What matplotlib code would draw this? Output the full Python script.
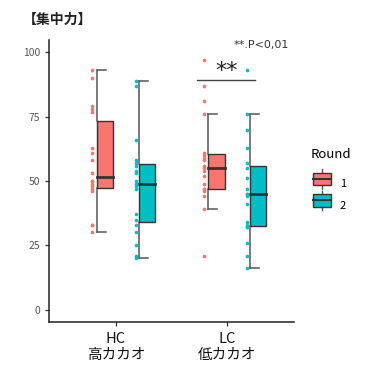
import matplotlib

matplotlib.use("Agg")
import matplotlib.pyplot as plt
import numpy as np
from matplotlib.legend_handler import HandlerBase
from matplotlib.patches import Rectangle
from matplotlib.lines import Line2D

plt.rcParams["font.family"] = ["Noto Sans CJK JP", "DejaVu Sans"]

# ---- data ------------------------------------------------------------------
groups = ["HC\n高カカオ", "LC\n低カカオ"]
rounds = ["1", "2"]
colors = ["#F8766D", "#00BFC4"]

hc_r1 = [93, 90, 79, 78, 77, 63, 61, 58, 53, 50, 50, 49, 48, 47, 46, 33, 33, 30]
hc_r2 = [89, 87, 66, 58, 57, 56, 54, 53, 50, 49, 48, 47, 37, 35, 33, 30, 25, 21, 20]
lc_r1 = [97, 87, 81, 76, 61, 60, 59, 58, 56, 55, 54, 52, 49, 47, 47, 46, 44, 39, 21]
lc_r2 = [93, 76, 70, 63, 57, 55, 51, 47, 45, 45, 44, 41, 34, 33, 32, 32, 26, 21, 16]
data = [[hc_r1, hc_r2], [lc_r1, lc_r2]]

yticks = [0, 25, 50, 75, 100]

# layout (category units)
box_off = [-0.096, 0.28]
pt_off = [-0.21, 0.177]
box_w = 0.145
cap_w = 0.08


def box_stats(v):
    v = np.asarray(v, float)
    q1, med, q3 = np.percentile(v, [25, 50, 75])
    iqr = q3 - q1
    lo = v[v >= q1 - 1.5 * iqr].min()
    hi = v[v <= q3 + 1.5 * iqr].max()
    return q1, med, q3, lo, hi


fig = plt.figure(figsize=(3.74, 3.74), dpi=100)
ax = fig.add_axes([0.131, 0.139, 0.655, 0.754])

for gi, pair in enumerate(data):
    for ri, vals in enumerate(pair):
        xc = gi + 1 + box_off[ri]
        left = xc - box_w / 2
        q1, med, q3, lo, hi = box_stats(vals)
        # whisker bracket at left edge of box
        ax.plot([left, left], [q3, hi], color="#555555", lw=1.1, zorder=2)
        ax.plot([left, left], [lo, q1], color="#555555", lw=1.1, zorder=2)
        ax.plot([left, left + cap_w], [hi, hi], color="#555555", lw=1.1, zorder=2)
        ax.plot([left, left + cap_w], [lo, lo], color="#555555", lw=1.1, zorder=2)
        ax.add_patch(Rectangle((left, q1), box_w, q3 - q1, facecolor=colors[ri],
                               edgecolor="#333333", lw=1.0, zorder=3))
        ax.plot([left, left + box_w], [med, med], color="#333333", lw=2.0, zorder=4)
        xs = np.full(len(vals), gi + 1 + pt_off[ri])
        ax.scatter(xs, vals, s=7, color=colors[ri], linewidths=0, zorder=5)

# significance marker on LC
ax.plot([1.73, 2.25], [89.3, 89.3], color="#444444", lw=1.0)
ax.text(1.99, 90.3, "**", ha="center", va="baseline", fontsize=16, color="#222222",
        family="DejaVu Sans")
ax.text(2.31, 102.9, "**.P<0,01", ha="center", va="center", fontsize=8, color="#333333",
        family="DejaVu Sans")

ax.set_xlim(0.4, 2.6)
ax.set_ylim(-4.8, 104.8)
ax.set_xticks([1, 2])
ax.set_xticklabels(groups, fontsize=10.5, color="#111111", linespacing=1.2)
ax.set_yticks(yticks)
ax.set_yticklabels([str(t) for t in yticks], fontsize=7.5, color="#555555")
for s in ["top", "right"]:
    ax.spines[s].set_visible(False)
for s in ["left", "bottom"]:
    ax.spines[s].set_linewidth(1.1)
    ax.spines[s].set_color("#222222")
ax.tick_params(length=3, width=0.9, color="#333333")
ax.tick_params(axis="x", pad=4)

fig.text(0.06, 0.948, "【集中力】", fontsize=10, fontweight="bold", ha="left", va="center",
         color="#222222")


class BoxHandler(HandlerBase):
    def create_artists(self, legend, orig, xd, yd, width, height, fontsize, trans):
        c = orig.get_facecolor()
        cx = xd + width / 2
        r = Rectangle((xd + width * 0.1, yd + height * 0.0), width * 0.8, height * 1.0,
                      facecolor=c, edgecolor="#333333", lw=1.0, transform=trans)
        m = Line2D([xd + width * 0.1, xd + width * 0.9], [yd + height * 0.5] * 2,
                   color="#333333", lw=1.5, transform=trans)
        w1 = Line2D([cx, cx], [yd + height * 1.0, yd + height * 1.3], color="#555555",
                    lw=1.0, transform=trans)
        w2 = Line2D([cx, cx], [yd - height * 0.3, yd], color="#555555",
                    lw=1.0, transform=trans)
        return [w1, w2, r, m]


handles = [Rectangle((0, 0), 1, 1, facecolor=c) for c in colors]
leg = fig.legend(handles, rounds, title="Round", loc="center left",
                 bbox_to_anchor=(0.805, 0.52), frameon=False, fontsize=8,
                 title_fontproperties={"size": 9.5}, handler_map={Rectangle: BoxHandler()},
                 handlelength=2.0, handleheight=1.3, labelspacing=0.85, handletextpad=0.6)
leg._legend_box.align = "left"
leg._legend_box.sep = 12

fig.savefig("out.png", dpi=100, facecolor="white")
